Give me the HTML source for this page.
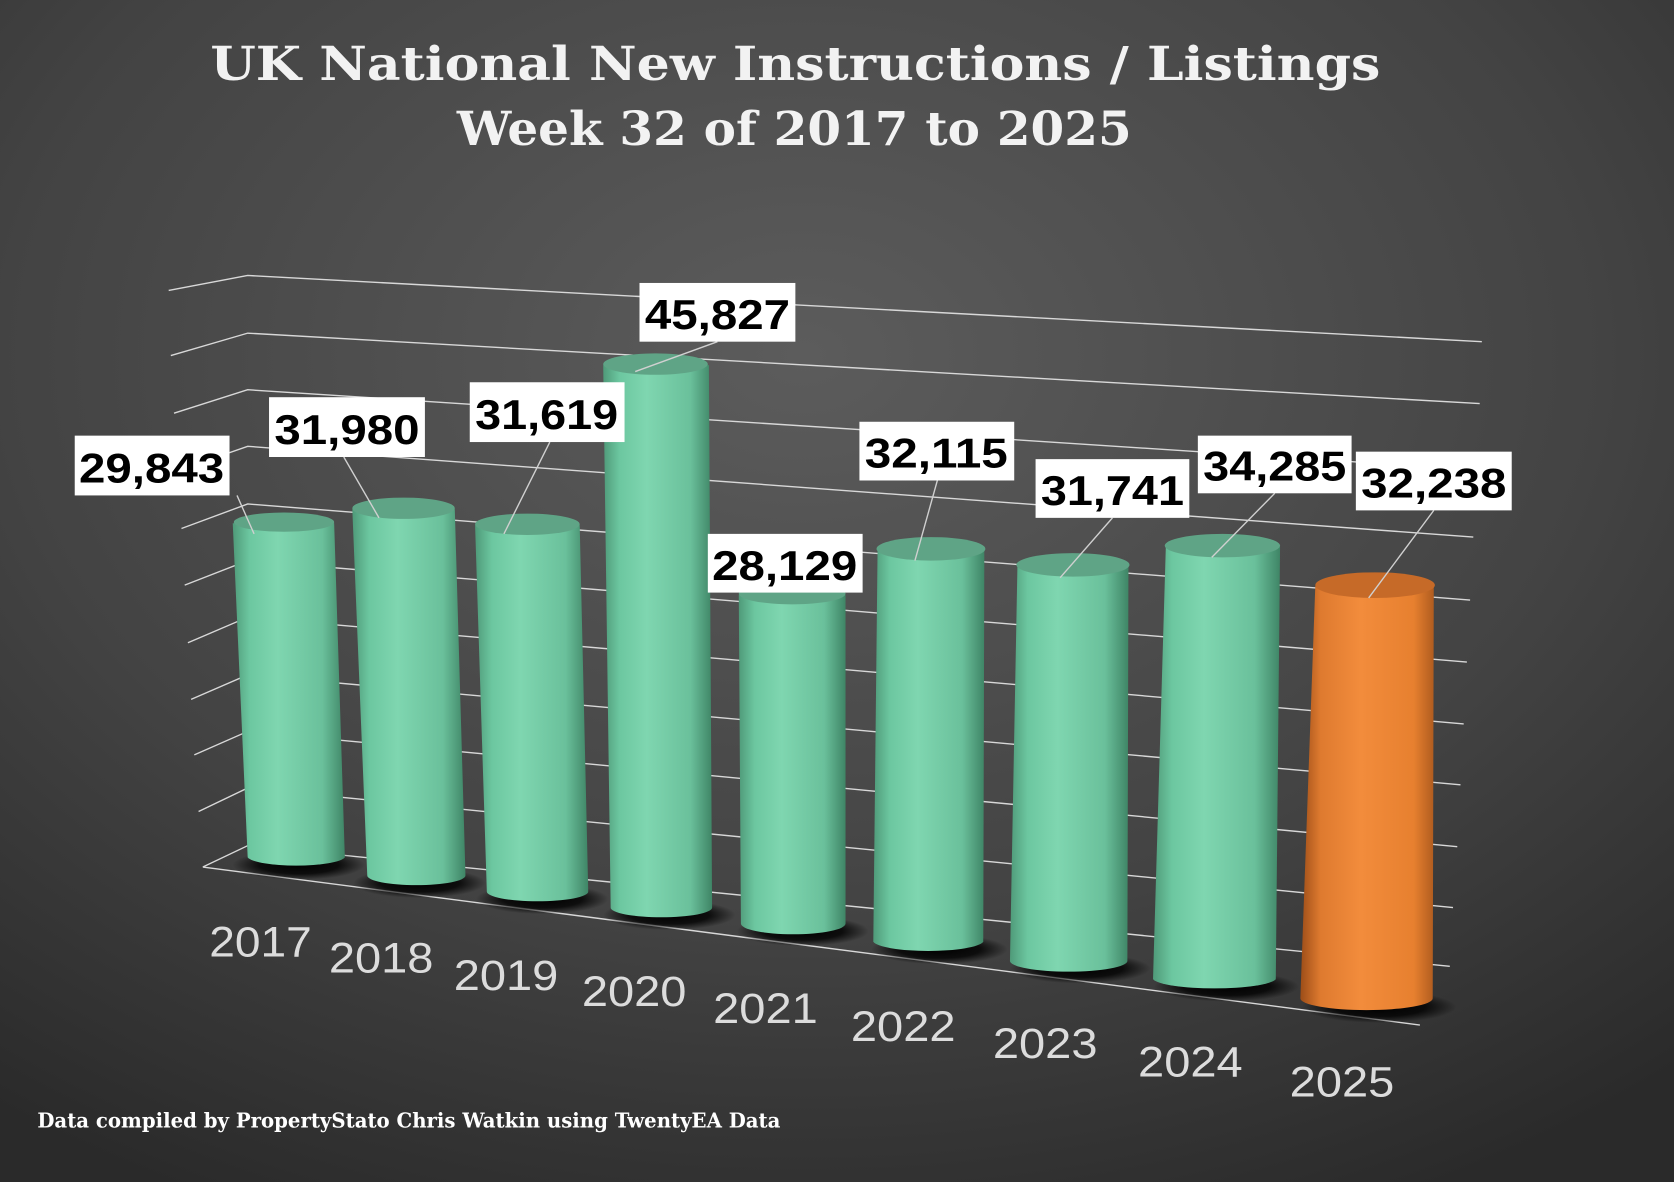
<!DOCTYPE html>
<html><head><meta charset="utf-8"><style>
html,body{margin:0;padding:0;background:#333;}
svg{display:block;}
</style></head><body>
<svg width="1674" height="1182" viewBox="0 0 1568 1107" preserveAspectRatio="none" xmlns="http://www.w3.org/2000/svg">
<defs>
<radialGradient id="bg" cx="0.48" cy="0.3" r="0.8">
<stop offset="0" stop-color="#5c5c5c"/><stop offset="0.6" stop-color="#434343"/><stop offset="1" stop-color="#2a2a2a"/>
</radialGradient>
<linearGradient id="gb" x1="0" x2="1" y1="0" y2="0">
<stop offset="0" stop-color="#4f9a79"/><stop offset="0.15" stop-color="#6cc7a0"/><stop offset="0.4" stop-color="#7fd6b0"/><stop offset="0.8" stop-color="#6ac09b"/><stop offset="1" stop-color="#3f8566"/>
</linearGradient>
<linearGradient id="ob" x1="0" x2="1" y1="0" y2="0">
<stop offset="0" stop-color="#9c4d18"/><stop offset="0.15" stop-color="#de7a2f"/><stop offset="0.45" stop-color="#f28c3c"/><stop offset="0.85" stop-color="#e7802f"/><stop offset="1" stop-color="#b05c1f"/>
</linearGradient>
<radialGradient id="sh" cx="0.5" cy="0.5" r="0.5"><stop offset="0" stop-color="#000" stop-opacity="1"/><stop offset="0.6" stop-color="#000" stop-opacity="0.8"/><stop offset="1" stop-color="#000" stop-opacity="0"/></radialGradient>
</defs>
<rect width="1568" height="1107" fill="url(#bg)"/>
<g stroke="#d8d8d8" stroke-width="1.3" fill="none">
<path d="M158,272 L232,258 L1388,320"/>
<path d="M160,333 L232,312 L1386,378"/>
<path d="M163,387 L232,365 L1383,440"/>
<path d="M166,441 L232,418 L1380,503"/>
<path d="M170,495 L232,472 L1377,562"/>
<path d="M173,548 L232,525 L1374,620"/>
<path d="M176,602 L232,578 L1371,678"/>
<path d="M179,655 L232,632 L1368,735"/>
<path d="M182,707 L232,685 L1365,793"/>
<path d="M186,760 L232,738 L1361,850"/>
<path d="M190,812 L232,792 L1358,905"/>
<path d="M190,812 L1330,960"/>
</g>
<g>
<ellipse cx="280" cy="810" rx="62" ry="14" fill="url(#sh)"/>
<ellipse cx="393" cy="827" rx="62" ry="14" fill="url(#sh)"/>
<ellipse cx="508" cy="842" rx="62" ry="14" fill="url(#sh)"/>
<ellipse cx="627" cy="857" rx="62" ry="14" fill="url(#sh)"/>
<ellipse cx="752" cy="872" rx="62" ry="14" fill="url(#sh)"/>
<ellipse cx="880" cy="889" rx="64" ry="14" fill="url(#sh)"/>
<ellipse cx="1012" cy="907" rx="66" ry="14" fill="url(#sh)"/>
<ellipse cx="1149" cy="924" rx="68" ry="14" fill="url(#sh)"/>
<ellipse cx="1292" cy="943" rx="72" ry="15" fill="url(#sh)"/>
</g>
<g id="bars">
<path d="M218,490 L232,803 A46,9 0 0 0 323,803 L313,490 Z" fill="url(#gb)"/><ellipse cx="266" cy="489" rx="47" ry="9" fill="#5fa486"/>
<path d="M330,477 L344,820 A46,9 0 0 0 436,820 L426,477 Z" fill="url(#gb)"/><ellipse cx="378" cy="476" rx="48" ry="10" fill="#5fa486"/>
<path d="M445,492 L456,835 A47,9 0 0 0 551,835 L543,492 Z" fill="url(#gb)"/><ellipse cx="494" cy="491" rx="49" ry="10" fill="#5fa486"/>
<path d="M565,342 L572,850 A47,9 0 0 0 667,850 L664,342 Z" fill="url(#gb)"/><ellipse cx="614" cy="341" rx="49" ry="10" fill="#5fa486"/>
<path d="M692,557 L694,865 A49,10 0 0 0 792,865 L792,557 Z" fill="url(#gb)"/><ellipse cx="742" cy="556" rx="50" ry="10" fill="#5fa486"/>
<path d="M822,515 L818,882 A52,10 0 0 0 921,882 L922,515 Z" fill="url(#gb)"/><ellipse cx="872" cy="514" rx="51" ry="11" fill="#5fa486"/>
<path d="M953,530 L946,900 A55,10 0 0 0 1056,900 L1057,530 Z" fill="url(#gb)"/><ellipse cx="1005" cy="529" rx="53" ry="11" fill="#5fa486"/>
<path d="M1092,512 L1080,917 A58,10 0 0 0 1195,917 L1199,512 Z" fill="url(#gb)"/><ellipse cx="1145" cy="511" rx="54" ry="11" fill="#5fa486"/>
<path d="M1232,549 L1218,935 A62,11 0 0 0 1342,935 L1343,549 Z" fill="url(#ob)"/><ellipse cx="1288" cy="548" rx="56" ry="12" fill="#c66a28"/>
</g>
<g stroke="#d0d0d0" stroke-width="1.3">
<line x1="222" y1="464" x2="238" y2="500"/>
<line x1="322" y1="428" x2="355" y2="485"/>
<line x1="515" y1="414" x2="472" y2="500"/>
<line x1="672" y1="320" x2="595" y2="348"/>
<line x1="878" y1="450" x2="857" y2="525"/>
<line x1="1042" y1="485" x2="993" y2="541"/>
<line x1="1194" y1="462" x2="1135" y2="522"/>
<line x1="1343" y1="478" x2="1282" y2="560"/>
</g>
<g fill="#fff">
<rect x="70" y="408" width="145" height="56"/>
<rect x="252" y="372" width="146" height="56"/>
<rect x="440" y="358" width="145" height="56"/>
<rect x="599" y="265" width="146" height="55"/>
<rect x="663" y="500" width="145" height="55"/>
<rect x="805" y="395" width="145" height="55"/>
<rect x="970" y="430" width="144" height="55"/>
<rect x="1122" y="408" width="144" height="54"/>
<rect x="1270" y="423" width="146" height="55"/>
</g>
<g font-family="Liberation Sans, sans-serif" font-size="39" fill="#000" text-anchor="middle" font-weight="bold">
<text x="142" y="452" textLength="136" lengthAdjust="spacingAndGlyphs">29,843</text>
<text x="325" y="416" textLength="136" lengthAdjust="spacingAndGlyphs">31,980</text>
<text x="512" y="402" textLength="134" lengthAdjust="spacingAndGlyphs">31,619</text>
<text x="672" y="308" textLength="136" lengthAdjust="spacingAndGlyphs">45,827</text>
<text x="735" y="543" textLength="136" lengthAdjust="spacingAndGlyphs">28,129</text>
<text x="877" y="438" textLength="134" lengthAdjust="spacingAndGlyphs">32,115</text>
<text x="1042" y="473" textLength="134" lengthAdjust="spacingAndGlyphs">31,741</text>
<text x="1194" y="450" textLength="134" lengthAdjust="spacingAndGlyphs">34,285</text>
<text x="1343" y="466" textLength="136" lengthAdjust="spacingAndGlyphs">32,238</text>
</g>
<g font-family="Liberation Sans, sans-serif" font-size="40" fill="#dcdcdc">
<text x="196" y="896" textLength="96" lengthAdjust="spacingAndGlyphs">2017</text>
<text x="308" y="911" textLength="98" lengthAdjust="spacingAndGlyphs">2018</text>
<text x="425" y="927" textLength="98" lengthAdjust="spacingAndGlyphs">2019</text>
<text x="545" y="942" textLength="98" lengthAdjust="spacingAndGlyphs">2020</text>
<text x="668" y="958" textLength="98" lengthAdjust="spacingAndGlyphs">2021</text>
<text x="797" y="975" textLength="98" lengthAdjust="spacingAndGlyphs">2022</text>
<text x="930" y="991" textLength="98" lengthAdjust="spacingAndGlyphs">2023</text>
<text x="1066" y="1008" textLength="98" lengthAdjust="spacingAndGlyphs">2024</text>
<text x="1208" y="1027" textLength="98" lengthAdjust="spacingAndGlyphs">2025</text>
</g>
<g font-family="DejaVu Serif, serif" font-weight="bold" fill="#f2f2f2" font-size="44">
<text x="197" y="75" textLength="1096" lengthAdjust="spacingAndGlyphs">UK National New Instructions / Listings</text>
<text x="428" y="136" textLength="632" lengthAdjust="spacingAndGlyphs">Week 32 of 2017 to 2025</text>
</g>
<text x="35" y="1056" font-family="DejaVu Serif, serif" font-weight="bold" font-size="19" fill="#fff" textLength="696" lengthAdjust="spacingAndGlyphs">Data compiled by PropertyStato Chris Watkin using TwentyEA Data</text>
</svg>
</body></html>
